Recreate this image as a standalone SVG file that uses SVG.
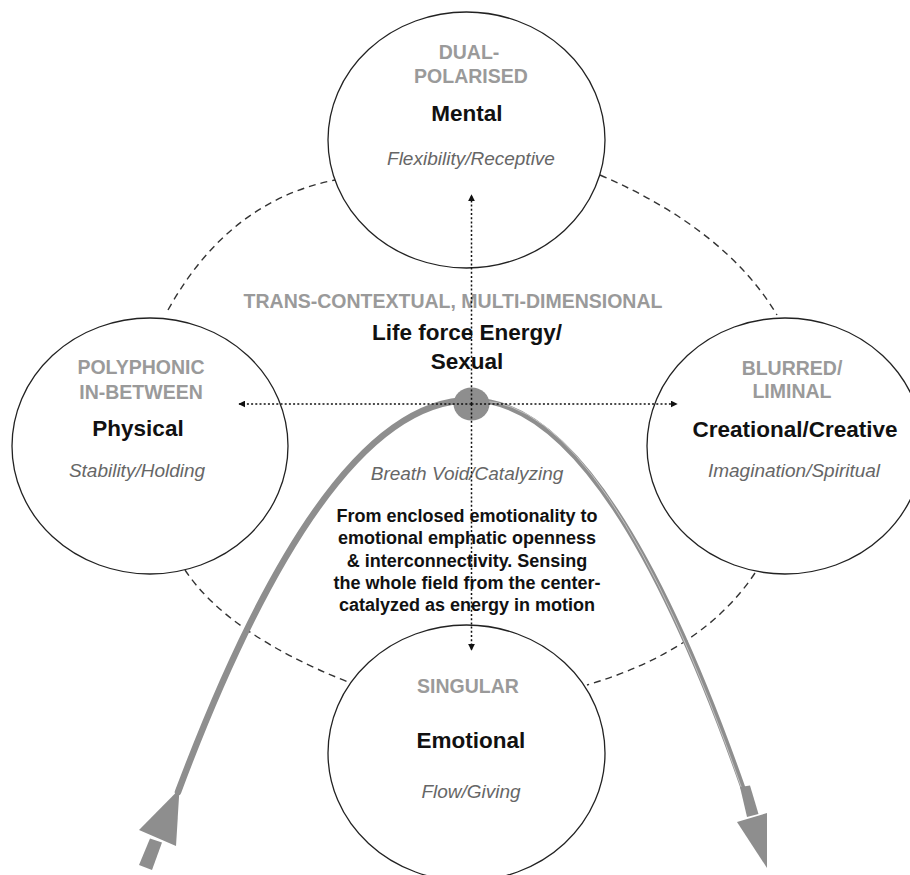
<svg xmlns="http://www.w3.org/2000/svg" width="910" height="875" viewBox="0 0 910 875">
  <defs>
    <style>
      .ring { fill: none; stroke: #333; stroke-width: 1.4; stroke-dasharray: 7 5; }
      .node { fill: #fff; stroke: #222; stroke-width: 1.3; }
      .tag { font-family: "Liberation Sans", Arial, sans-serif; font-weight: bold; font-size: 19.5px; fill: #9a9a9a; text-anchor: middle; }
      .title { font-family: "Liberation Sans", Arial, sans-serif; font-weight: bold; font-size: 22.5px; fill: #111; text-anchor: middle; }
      .quality { font-family: "Liberation Sans", Arial, sans-serif; font-style: italic; font-size: 19px; fill: #666; text-anchor: middle; }
      .body { font-family: "Liberation Sans", Arial, sans-serif; font-weight: bold; font-size: 18px; fill: #111; text-anchor: middle; }
      .dots { fill: none; stroke: #111; stroke-width: 1.5; stroke-dasharray: 2 2.2; }
      .flow { fill: none; stroke: #8e8e8e; stroke-linecap: round; }
      .flowfill { fill: #8e8e8e; }
    </style>
    <marker id="tip" viewBox="0 0 10 10" refX="9" refY="5" markerWidth="7" markerHeight="7" markerUnits="userSpaceOnUse" orient="auto">
      <path d="M0,0 L10,5 L0,10 Z" fill="#111"/>
    </marker>
  </defs>

  <rect width="910" height="875" fill="#fff"/>

  <!-- dashed ring linking the four centres -->
  <g id="ring">
    <path class="ring" d="M168,310 Q228.5,201 335,180"/>
    <path class="ring" d="M600,175 Q725.5,229 777,315"/>
    <path class="ring" d="M185,570 Q227.5,634 348,682"/>
    <path class="ring" d="M755,573 Q703,651 587,685"/>
  </g>

  <g id="mental">
    <ellipse class="node" cx="466.5" cy="140" rx="138.5" ry="128"/>
    <text class="tag" x="469" y="59">DUAL-</text>
    <text class="tag" x="471" y="83">POLARISED</text>
    <text class="title" x="467" y="121">Mental</text>
    <text class="quality" x="471" y="165">Flexibility/Receptive</text>
  </g>

  <g id="physical">
    <ellipse class="node" cx="150" cy="446" rx="138" ry="128"/>
    <text class="tag" x="141" y="374">POLYPHONIC</text>
    <text class="tag" x="141" y="399">IN-BETWEEN</text>
    <text class="title" x="138" y="436">Physical</text>
    <text class="quality" x="137" y="477">Stability/Holding</text>
  </g>

  <g id="creational">
    <ellipse class="node" cx="785" cy="446" rx="138" ry="128"/>
    <text class="tag" x="792" y="375">BLURRED/</text>
    <text class="tag" x="792" y="398">LIMINAL</text>
    <text class="title" x="795" y="437">Creational/Creative</text>
    <text class="quality" x="794" y="477">Imagination/Spiritual</text>
  </g>

  <g id="emotional">
    <ellipse class="node" cx="466.5" cy="753" rx="138.5" ry="128"/>
    <text class="tag" x="468" y="693">SINGULAR</text>
    <text class="title" x="471" y="748">Emotional</text>
    <text class="quality" x="471" y="798">Flow/Giving</text>
  </g>

  <g id="centre">
    <text class="tag" x="453" y="308">TRANS-CONTEXTUAL, MULTI-DIMENSIONAL</text>
    <text class="title" x="467" y="340">Life force Energy/</text>
    <text class="title" x="467" y="369">Sexual</text>
    <text class="quality" x="467" y="480">Breath Void/Catalyzing</text>
    <text class="body" x="467" y="522">From enclosed emotionality to</text>
    <text class="body" x="467" y="544">emotional emphatic openness</text>
    <text class="body" x="467" y="566.5">&amp; interconnectivity. Sensing</text>
    <text class="body" x="467" y="588.5">the whole field from the center-</text>
    <text class="body" x="467" y="611">catalyzed as energy in motion</text>
  </g>

  <!-- rising and falling energy curve -->
  <g id="energy-flow">
    <path class="flow" stroke-width="6.5" d="M178,792 Q325,400 471,400"/>
    <path class="flow" stroke-width="5" d="M471,400 Q606.5,400 743,788"/>
    <path fill="none" stroke="#c8c8c8" stroke-width="0.9" d="M480,401 Q606.5,401 743,792"/>
    <polygon class="flowfill" points="139,865 152,870 162,842.5 150,838.5"/>
    <polygon class="flowfill" points="139,830 176,846 179.5,789"/>
    <polygon class="flowfill" points="740,787 750,785.5 758.5,814 747,817"/>
    <polygon class="flowfill" points="737,822 767,813 767,868"/>
    <ellipse cx="471.5" cy="404" rx="18" ry="16.5" fill="#8e8e8e"/>
  </g>

  <g id="connectors">
    <line class="dots" x1="471.5" y1="404" x2="239" y2="404" marker-end="url(#tip)"/>
    <line class="dots" x1="471.5" y1="404" x2="677" y2="404" marker-end="url(#tip)"/>
    <line class="dots" x1="471.5" y1="404" x2="471.5" y2="195" marker-end="url(#tip)"/>
    <line class="dots" x1="471.5" y1="404" x2="471.5" y2="650" marker-end="url(#tip)"/>
  </g>
</svg>
